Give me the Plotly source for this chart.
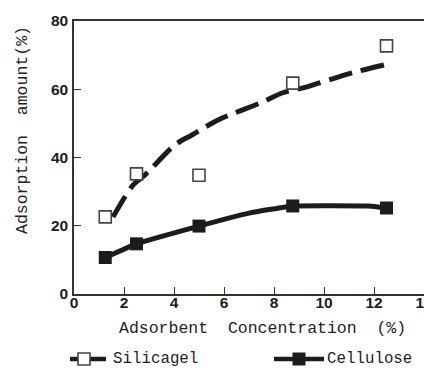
import plotly.graph_objects as go

# Measured adsorption data
conc = [1.25, 2.5, 5.0, 8.75, 12.5]
silicagel = [22.6, 35.2, 34.8, 61.8, 72.7]
cellulose = [10.7, 14.7, 19.9, 25.8, 25.2]

# Fitted trend for silicagel (dashed curve)
sil_fit_x = [1.56, 2.36, 2.84, 4.04, 4.72, 5.76, 7.56, 8.32, 9.32, 11.12, 12.56]
sil_fit_y = [22.6, 31.9, 34.9, 43.7, 46.6, 51.0, 56.3, 58.9, 60.7, 64.8, 67.4]

# Smoothed connecting line for cellulose
cel_line_x = [1.25, 2.5, 5.0, 7.0, 8.75, 11.8, 12.5]
cel_line_y = [10.7, 14.7, 19.9, 23.7, 25.8, 25.8, 25.2]

x_ticks = [0, 2, 4, 6, 8, 10, 12, 14]
y_ticks = [0, 20, 40, 60, 80]

INK = "#1c1c1c"
MONO = "Liberation Mono"

fig = go.Figure()

fig.add_trace(go.Scatter(
    x=sil_fit_x, y=sil_fit_y, mode="lines",
    line=dict(color=INK, width=5, dash="24px,9px", shape="spline", smoothing=0.8),
    showlegend=False, hoverinfo="skip"))
fig.add_trace(go.Scatter(
    x=cel_line_x, y=cel_line_y, mode="lines",
    line=dict(color=INK, width=5, shape="spline", smoothing=0.3),
    showlegend=False, hoverinfo="skip"))
fig.add_trace(go.Scatter(
    x=conc, y=silicagel, mode="markers", name="Silicagel",
    marker=dict(symbol="square", size=12, color="white",
                line=dict(color="#444444", width=1.6)),
    showlegend=False))
fig.add_trace(go.Scatter(
    x=conc, y=cellulose, mode="markers", name="Cellulose",
    marker=dict(symbol="square", size=13, color=INK, line=dict(width=0)),
    showlegend=False))

axis_common = dict(
    showline=True, linecolor="#333333", linewidth=1.5, mirror=True,
    ticks="inside", ticklen=7, tickwidth=1.3, tickcolor="#333333",
    showgrid=False, zeroline=False, ticklabeloverflow="allow",
    tickfont=dict(family="Liberation Sans", size=15.5, color=INK, weight="bold"),
)

fig.update_xaxes(range=[0, 14], tickvals=x_ticks, ticklabelstandoff=-6, **axis_common)
fig.update_yaxes(range=[0, 80], tickvals=y_ticks, ticklabelstandoff=1, **axis_common)

L, T, B = 74, 21, 76
W, H = 424, 370
PW, PH = W - L, H - T - B


def px_x(px):
    return (px - L) / PW


def px_y(py):
    return (H - B - py) / PH


def label(text, x, y, size, xanchor="center", angle=0):
    return dict(text=text, x=px_x(x), y=px_y(y), xref="paper", yref="paper",
                xanchor=xanchor, yanchor="middle", showarrow=False,
                textangle=angle,
                font=dict(family=MONO, size=size, color="#222222"))


annotations = [
    label("Adsorbent  Concentration  (%)", 262, 328, 16.5),
    label("Adsorption  amount(%)", 22, 130, 16.5, angle=-90),
    label("Silicagel", 111, 359, 15.8, xanchor="left"),
    label("Cellulose", 325, 359, 15.8, xanchor="left"),
]

shapes = [
    # legend: silicagel sample
    dict(type="line", xref="paper", yref="paper",
         x0=px_x(70), x1=px_x(106), y0=px_y(359), y1=px_y(359),
         line=dict(color=INK, width=4.5)),
    dict(type="rect", xref="paper", yref="paper",
         xsizemode="pixel", ysizemode="pixel",
         xanchor=px_x(84), yanchor=px_y(359), x0=-6, x1=6, y0=-6, y1=6,
         fillcolor="white", line=dict(color="#444444", width=1.6)),
    # legend: cellulose sample
    dict(type="line", xref="paper", yref="paper",
         x0=px_x(274), x1=px_x(324), y0=px_y(359), y1=px_y(359),
         line=dict(color=INK, width=4.5)),
    dict(type="rect", xref="paper", yref="paper",
         xsizemode="pixel", ysizemode="pixel",
         xanchor=px_x(299), yanchor=px_y(359), x0=-6.5, x1=6.5, y0=-6.5, y1=6.5,
         fillcolor=INK, line=dict(width=0)),
]

fig.update_layout(
    width=W, height=H,
    margin=dict(l=L, r=0, t=T, b=B, autoexpand=False),
    paper_bgcolor="white", plot_bgcolor="white",
    annotations=annotations, shapes=shapes,
    showlegend=False,
)

fig.write_html("out.html")
